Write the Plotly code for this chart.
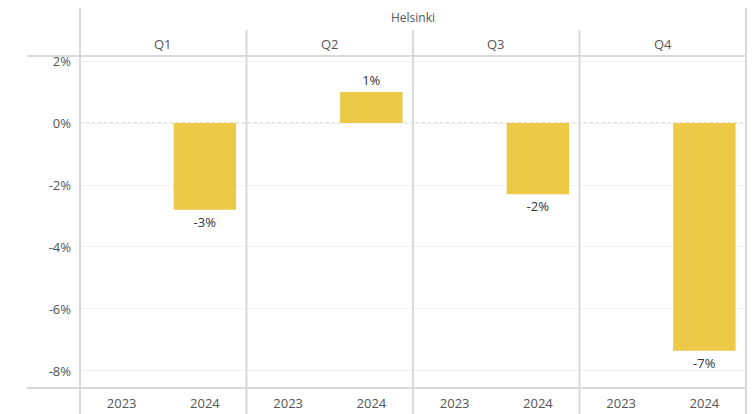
import plotly.graph_objects as go
from plotly.subplots import make_subplots

city = "Helsinki"
quarters = ["Q1", "Q2", "Q3", "Q4"]
years = ["2023", "2024"]
values_2023 = [None, None, None, None]
values_2024 = [-2.8, 1.0, -2.3, -7.35]
labels_2024 = ["-3%", "1%", "-2%", "-7%"]
y_ticks = [-8, -6, -4, -2, 0, 2]

BAR = "#EDC948"
LINE = "#d9d9d9"
FONT = "Open Sans, DejaVu Sans, sans-serif"

fig = make_subplots(rows=1, cols=4, shared_yaxes=True, horizontal_spacing=0)

for i, q in enumerate(quarters):
    fig.add_trace(
        go.Bar(
            x=years,
            y=[values_2023[i], values_2024[i]],
            text=["", labels_2024[i]],
            textposition="outside",
            textfont=dict(color="#333333", size=13, family=FONT),
            marker=dict(color=BAR, line=dict(width=0)),
            width=0.75,
            cliponaxis=False,
            showlegend=False,
            hoverinfo="skip",
        ),
        row=1, col=i + 1,
    )
    fig.update_xaxes(
        type="category", categoryorder="array", categoryarray=years,
        showgrid=False, zeroline=False, showline=False, ticks="",
        tickfont=dict(color="#555555", size=13, family=FONT),
        ticklabelstandoff=6, automargin=False,
        row=1, col=i + 1,
    )

fig.update_yaxes(
    range=[-8.55, 2.13],
    tickvals=y_ticks,
    ticktext=[f"{v}%" for v in y_ticks],
    showgrid=True, gridcolor="#f1f1f1", gridwidth=1,
    zeroline=False, showline=False, ticks="",
    tickfont=dict(color="#555555", size=13, family=FONT),
    automargin=False,
)
fig.update_yaxes(ticklabelstandoff=8, row=1, col=1)

shapes = []
# zero line dotted
shapes.append(dict(type="line", xref="paper", yref="y", x0=0, x1=1, y0=0, y1=0,
                   line=dict(color="#bbbbbb", width=1, dash="dot"), layer="below"))
# horizontal border lines
for yp in [1.003, 0.0]:
    shapes.append(dict(type="line", xref="paper", yref="paper", x0=-0.0796, x1=1.0,
                       y0=yp, y1=yp, line=dict(color=LINE, width=2), layer="above"))
# vertical lines
shapes.append(dict(type="line", xref="paper", yref="paper", x0=0, x1=0,
                   y0=-0.08, y1=1.16, line=dict(color=LINE, width=2)))
shapes.append(dict(type="line", xref="paper", yref="paper", x0=1, x1=1,
                   y0=-0.08, y1=1.16, line=dict(color=LINE, width=2)))
for k in [1, 2, 3]:
    shapes.append(dict(type="line", xref="paper", yref="paper", x0=k / 4, x1=k / 4,
                       y0=-0.08, y1=1.0816, line=dict(color=LINE, width=2)))

annotations = [
    dict(text=city, xref="paper", yref="paper", x=0.5, y=1.12, showarrow=False,
         font=dict(color="#555555", size=12, family=FONT), xanchor="center", yanchor="middle")
]
for i, q in enumerate(quarters):
    annotations.append(dict(text=q, xref="paper", yref="paper", x=(i + 0.5) / 4, y=1.04,
                            showarrow=False, xanchor="center", yanchor="middle",
                            font=dict(color="#555555", size=13, family=FONT)))

# page body has an 8px margin: size the figure so it ends at the window edge
fig.update_layout(
    width=748, height=406,
    margin=dict(l=72, r=10, t=49, b=26),
    paper_bgcolor="white", plot_bgcolor="white",
    shapes=shapes, annotations=annotations,
    bargap=0.25,
    font=dict(family=FONT),
)

fig.write_html("out.html")
